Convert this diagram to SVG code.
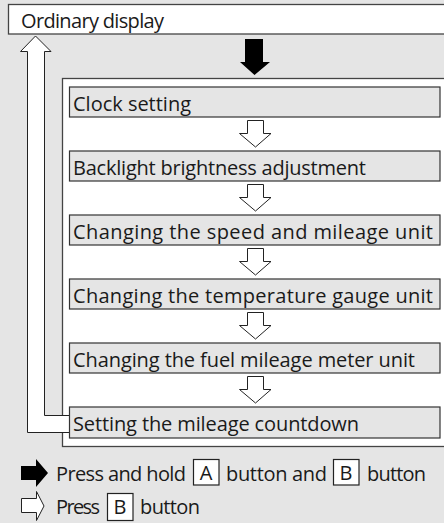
<svg xmlns="http://www.w3.org/2000/svg" width="444" height="523" viewBox="0 0 444 523">
<style>
text{font-family:"Open Sans","Noto Sans","Liberation Sans",sans-serif;font-size:20px;fill:#1a1a1a}
.box{fill:#e5e5e5;stroke:#333;stroke-width:1.2}
.hollow{fill:#fff;stroke:#222;stroke-width:1}
.btn{fill:#fff;stroke:#222;stroke-width:1.2}
.key{font-size:20px;text-anchor:middle}
</style>
<rect x="0" y="0" width="444" height="523" fill="#e5e5e5"/>
<g id="ordinary">
<rect x="8.5" y="4.5" width="440" height="29.5" fill="#fff" stroke="#444" stroke-width="1.3"/>
<text x="21" y="27.5" textLength="143">Ordinary display</text>
</g>
<g id="panel">
<rect x="62.5" y="78.5" width="390" height="368" fill="#fff" stroke="#444" stroke-width="1.3"/>
</g>
<g id="connectors">
<path d="M245,39 H263 V62 H270 L254.5,75 L240,62 H245 Z" fill="#000"/>
<path d="M69,415.5 H44.5 V51.5 H51 L35.5,36 L20.5,51.5 H27.5 V432.5 H69" class="hollow"/>
<path d="M247.5,120.5 H263.5 V133.5 H271 L255.5,147 L239.5,133.5 H247.5 Z" class="hollow"/>
<path d="M247.5,184.5 H263.5 V197.5 H271 L255.5,211 L239.5,197.5 H247.5 Z" class="hollow"/>
<path d="M247.5,248.5 H263.5 V261.5 H271 L255.5,275 L239.5,261.5 H247.5 Z" class="hollow"/>
<path d="M247.5,312.5 H263.5 V325.5 H271 L255.5,339 L239.5,325.5 H247.5 Z" class="hollow"/>
<path d="M247.5,376.5 H263.5 V389.5 H271 L255.5,403 L239.5,389.5 H247.5 Z" class="hollow"/>
</g>
<g id="clock"><rect class="box" x="69.5" y="87" width="370.5" height="30"/><text x="73" y="110.5" textLength="118">Clock setting</text></g>
<g id="backlight"><rect class="box" x="69.5" y="151" width="370.5" height="30"/><text x="73" y="174.5" textLength="293">Backlight brightness adjustment</text></g>
<g id="speed"><rect class="box" x="69.5" y="215" width="370.5" height="30"/><text x="73" y="238.5" textLength="360">Changing the speed and mileage unit</text></g>
<g id="temperature"><rect class="box" x="69.5" y="279" width="370.5" height="30"/><text x="73" y="302.5" textLength="360">Changing the temperature gauge unit</text></g>
<g id="fuel"><rect class="box" x="69.5" y="343" width="370.5" height="30"/><text x="73" y="366.5" textLength="342">Changing the fuel mileage meter unit</text></g>
<g id="countdown"><rect class="box" x="69.5" y="407" width="370.5" height="31"/><text x="73" y="430.5" textLength="286">Setting the mileage countdown</text></g>
<g id="legend">
<path d="M21,466 H36 V459 L48,473 L36,487 V480 H21 Z" fill="#000"/>
<text x="56" y="480.5" textLength="130">Press and hold</text>
<rect class="btn" x="193.5" y="459.5" width="25.5" height="25.5"/><text class="key" x="206" y="479.5">A</text>
<text x="226" y="480.5" textLength="101">button and</text>
<rect class="btn" x="333.5" y="459.5" width="25.5" height="25.5"/><text class="key" x="346" y="479.5">B</text>
<text x="367" y="480.5" textLength="59">button</text>
<path d="M21.5,498.5 H36.5 V491.5 L44,506 L36.5,520.5 V512.5 H21.5 Z" class="hollow"/>
<text x="56" y="513.5" textLength="44">Press</text>
<rect class="btn" x="107.5" y="493.5" width="25.5" height="27"/><text class="key" x="120" y="513.5">B</text>
<text x="140" y="513.5" textLength="60">button</text>
</g>
</svg>
